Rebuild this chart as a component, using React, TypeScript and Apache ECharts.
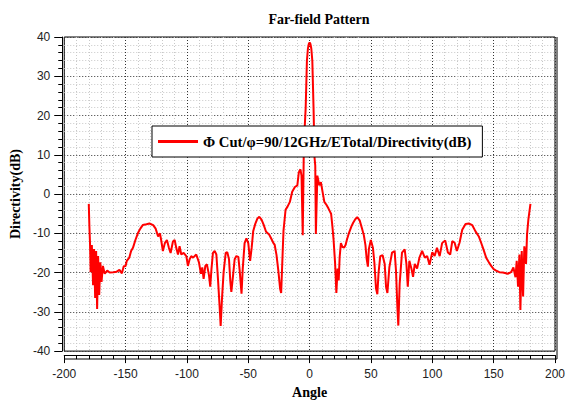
import { useEffect, useRef } from "react";
import * as echarts from "echarts";

// Far-field directivity cut, angle in degrees vs directivity in dB
const angles = [
  -180, -179.5, -179, -178.5, -177.5, -176.5, -175.7, -174.8, -174, -173.2,
  -172.4, -171.5, -170.6, -169.6, -168.5, -167, -165, -163, -160, -157.5,
  -155, -153, -151.5, -150, -149, -147, -145.5, -144, -142, -140,
  -138, -136, -133, -130.5, -127.5, -125.5, -123.5, -122, -121, -119.6,
  -118, -116.3, -114.7, -113.3, -111.4, -110, -108.7, -107.3, -106, -104.6,
  -102.7, -100.5, -99.2, -97.8, -96.5, -95, -92.4, -90.2, -88.6, -87.5,
  -86.4, -85, -83.7, -82, -81, -80, -78.8, -77.4, -76, -74.7,
  -73.3, -72.5, -71.4, -70.1, -68.4, -67.1, -65.7, -64.6, -63.8, -62.4,
  -61.1, -59.7, -58.1, -57, -55.5, -54.5, -53, -51.5, -50, -48.5,
  -47.2, -46, -44.3, -42.5, -41, -39.2, -37.5, -35.5, -33, -31,
  -29.5, -28.5, -27, -25.5, -24, -23.2, -22.4, -21.3, -19.6, -18,
  -16.1, -14.2, -12, -10, -8.8, -7.5, -6.6, -5.6, -4.7, -4,
  -3.2, -2.2, -1.4, -0.7, 0, 0.7, 1.4, 2.2, 3.2, 4,
  4.6, 5.1, 6.3, 7.9, 9.2, 10.6, 12, 13.8, 15.4, 17.5,
  18.5, 19.5, 20.8, 21.8, 22.8, 23.7, 24.5, 25.5, 26.8, 28.2,
  29.3, 30.5, 32.2, 34, 35.5, 37.2, 38.8, 40.8, 42.7, 44.2,
  45.5, 46.5, 47.5, 48.3, 49.9, 51.6, 52.8, 54.1, 55.2, 56.2,
  57.6, 59.5, 61.2, 62.3, 63.4, 65, 67.2, 69.3, 70.4, 71.5,
  72.3, 73.4, 75.3, 77.5, 78.9, 80, 81.3, 83, 84.3, 85.7,
  87.6, 89.5, 91.7, 93.9, 95.8, 97.7, 100, 101.9, 103.8, 106,
  108, 110.5, 112.7, 114.6, 116.3, 118.2, 120, 122.2, 124.4, 127.1,
  129.8, 132.5, 135.2, 137.9, 139.8, 141.7, 143.9, 146.1, 148, 150,
  152, 154.7, 157.5, 161.5, 164.2, 166.1, 167.8, 168.8, 169.9, 171,
  171.8, 172.9, 174, 175, 176.4, 177.2, 178.3, 180,
];

const directivity = [
  -2.5, -8.3, -12.5, -19.9, -13, -23.2, -14, -26.5, -14.5, -29.3,
  -15.8, -25.7, -17.4, -22.4, -18.3, -20.3, -19.5, -20, -19.9, -19.8,
  -19.3, -20.2, -18.4, -18.3, -17, -16.2, -14.5, -13.7, -11.7, -10,
  -8.8, -7.9, -7.7, -7.5, -7.9, -8.8, -10.8, -10, -11.7, -14.5,
  -12.5, -11.7, -13.7, -15, -12.1, -11.7, -13.7, -15.4, -13.3, -15.4,
  -15, -15.8, -18.3, -16.6, -15.8, -16.2, -15.4, -17.4, -20.3, -18.7,
  -21.6, -18.3, -17.9, -20.7, -23.6, -19.1, -15, -14.5, -15.4, -21.6,
  -29, -33.6, -26.5, -19.9, -15, -14.8, -16.6, -22.4, -24.9, -20.7,
  -16.6, -15.8, -16, -19.5, -25.4, -19, -12.5, -11.3, -12.5, -17,
  -13.6, -9.5, -7.6, -6.2, -5.8, -6.5, -7.8, -9.6, -10.3, -11.5,
  -12.5, -12.9, -15.5, -19.5, -24.2, -25.2, -18.5, -9.4, -4, -3.2,
  -2, 0.6, 1.8, 2.2, 5.5, 6.3, 4.7, -10.5, 12.2, 17,
  22, 34, 37, 38.2, 38.6, 38.2, 37, 34, 22, 9.3,
  7.2, -10.2, 4.7, 2.2, 3, 0.5, -2, -2.8, -3.7, -5,
  -8, -11.5, -17.8, -25.2, -19, -22, -16, -12.5, -13.5, -13.6,
  -13, -11.5, -9.8, -8.3, -7.3, -6.4, -5.9, -6.7, -8.8, -10.5,
  -13, -16.5, -18.5, -14, -11.7, -13.7, -17.5, -24, -25.5, -20,
  -15.8, -15.6, -17.8, -23.6, -25.2, -18.6, -14.9, -14.5, -19.5, -28.5,
  -33.5, -22.8, -14.9, -14.1, -17.8, -23.6, -17, -19, -21.1, -17.8,
  -19, -16.2, -14.5, -16.2, -15.8, -18, -14.8, -15.8, -13.7, -15.8,
  -12.5, -11.8, -14.9, -15.4, -12, -12.4, -14.5, -12.4, -9.1, -7.6,
  -7.5, -7.9, -9.5, -10.8, -12.4, -14.1, -16.2, -17.4, -18.3, -19.1,
  -19.5, -19.9, -20, -20.3, -19.9, -18.7, -21.2, -17, -23.6, -15.4,
  -29.5, -14.5, -26.1, -13.3, -17.8, -10.4, -6.5, -2.5,
];

const seriesName = "Φ Cut/φ=90/12GHz/ETotal/Directivity(dB)";
const chartTitle = "Far-field Pattern";
const xName = "Angle";
const yName = "Directivity(dB)";

const serif = "'Liberation Serif', 'Times New Roman', serif";
const sans = "'Liberation Sans', Arial, sans-serif";

export default function App() {
  const ref = useRef<HTMLDivElement>(null);

  useEffect(() => {
    if (!ref.current) return;
    const chart = echarts.init(ref.current, null, { renderer: "svg" });
    const points = angles.map((a, i) => [a, directivity[i]]);

    const axisCommon = {
      type: "value",
      nameLocation: "middle",
      nameTextStyle: { fontFamily: serif, fontWeight: "bold", fontSize: 14, color: "#000" },
      axisLine: { show: true, onZero: false, lineStyle: { color: "#000", width: 1 } },
      axisTick: { show: true, length: 8, lineStyle: { color: "#000", width: 1 } },
      minorTick: { show: true, splitNumber: 5, length: 4, lineStyle: { color: "#000", width: 1 } },
      splitLine: { show: true, lineStyle: { color: "#333", width: 1, type: [1, 2] } },
      minorSplitLine: { show: true, lineStyle: { color: "#c8c8c8", width: 1, type: [1, 2] } },
      axisLabel: { fontFamily: sans, fontSize: 12, color: "#222" },
    };

    chart.setOption({
      animation: false,
      backgroundColor: "#fff",
      title: {
        text: chartTitle,
        left: 314,
        textAlign: "center",
        top: 7,
        textStyle: { fontFamily: serif, fontWeight: "bold", fontSize: 14, color: "#000" },
      },
      grid: {
        left: 64,
        right: 12,
        top: 37,
        bottom: 46,
        show: true,
        borderColor: "#000",
        borderWidth: 1,
      },
      legend: {
        left: 152,
        top: 126,
        backgroundColor: "#fff",
        borderColor: "#000",
        borderWidth: 1,
        borderRadius: 0,
        padding: [8, 11, 8, 6],
        itemWidth: 40,
        itemHeight: 3,
        icon: "rect",
        textStyle: { fontFamily: serif, fontWeight: "bold", fontSize: 14.7, color: "#000" },
        data: [seriesName],
      },
      xAxis: {
        ...axisCommon,
        min: -200,
        max: 200,
        interval: 50,
        offset: 4,
        name: xName,
        nameGap: 24,
        axisLabel: { ...axisCommon.axisLabel, margin: 13 },
      },
      yAxis: {
        ...axisCommon,
        min: -40,
        max: 40,
        interval: 10,
        offset: 2,
        name: yName,
        nameGap: 32,
        axisLabel: { ...axisCommon.axisLabel, margin: 12 },
      },
      graphic: [
        { type: "line", shape: { x1: 557, y1: 37, x2: 557, y2: 359 }, style: { stroke: "#000", lineWidth: 1 } },
        { type: "line", shape: { x1: 64, y1: 359, x2: 557, y2: 359 }, style: { stroke: "#000", lineWidth: 1 } },
      ],
      series: [
        {
          type: "line",
          name: seriesName,
          data: points,
          symbol: "none",
          showSymbol: false,
          lineStyle: { color: "#ff0000", width: 2 },
          itemStyle: { color: "#ff0000" },
          z: 2,
        },
      ],
    });

    return () => chart.dispose();
  }, []);

  return (
    <div
      ref={ref}
      style={{ position: "fixed", left: 0, top: 0, width: 568, height: 404, background: "#fff" }}
    />
  );
}
